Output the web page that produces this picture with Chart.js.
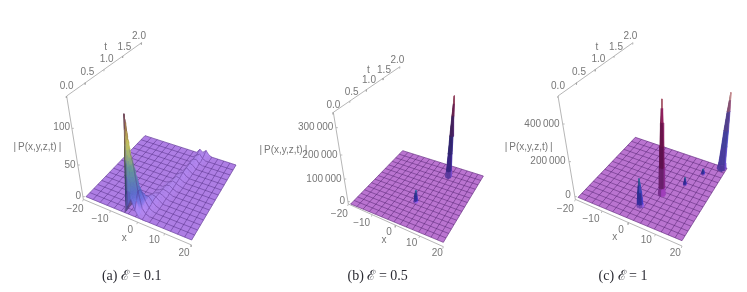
<!DOCTYPE html>
<html><head><meta charset="utf-8">
<style>
html,body{margin:0;padding:0;background:#fff;width:747px;height:292px;overflow:hidden}
canvas{position:absolute;top:0;filter:blur(.6px)}
</style>
<script src="https://cdn.jsdelivr.net/npm/chart.js@4"></script>
</head><body>
<canvas id="pa" width="250" height="292" style="left:0"></canvas>
<canvas id="pb" width="250" height="292" style="left:250px"></canvas>
<canvas id="pc" width="250" height="292" style="left:497px"></canvas>
<script>
// ---------- values ----------
const xTicks = [-20,-10,0,10,20];
const tTicks = [0,0.5,1,1.5,2];
const tTickLabels = ['0.0','0.5','1.0','1.5','2.0'];
const zTicksA = [0,50,100];
const zTickLabelsA = ['0','50','100'];
const zTicksB = [0,100000,200000,300000];
const zTickLabelsB = ['0','100\u2009000','200\u2009000','300\u2009000'];
const zTicksC = [0,200000,400000];
const zTickLabelsC = ['0','200\u2009000','400\u2009000'];
const captions = ['(a) \u2130 = 0.1','(b) \u2130 = 0.5','(c) \u2130 = 1'];

// Panel (a): surface heights, one row per t step (t = row/15), [first x index, heights...]  (x = -20 + i*4/3)
const ridgeRowsA = [
 [11,0,12,24,10,1],
 [11,0,147,70,20,3,1],
 [11,0,95,72,32,8,2],
 [11,0,45,52,30,10,3],
 [12,18,30,24,12,4,1],
 [12,5,16,18,12,5,1],
 [13,7,12,12,6,2],
 [13,3,8,10,7,2],
 [14,5,8,7,3],
 [14,3,6,6,3,1],
 [14,1,4,6,4,1],
 [15,3,5,4,1],
 [15,2,5,4,2],
 [15,1,5,5,2],
 [16,4,5,2],
 [16,3,5,3],
 [16,2,5,3,1],
 [16,1,5,4,1],
 [17,5,4,1],
 [17,4,5,1],
 [17,3,6,2],
 [17,2,6,2],
 [18,6,3],
 [18,6,3],
 [18,6,4],
 [18,6,5],
 [18,5,6,1],
 [18,5,6,1],
 [18,4,7,2],
 [18,5,5,4,1],
 [18,6,3,7,2]
];
// Panels (b), (c): isolated peaks
const peakXB = [6, 0.8];
const peakTB = [1.7, 0.74];
const peakZB = [318000, 46000];
const peakXC = [0, 4, 18, 9.2, 12.8];
const peakTC = [0.4, 0.86, 1.96, 1.28, 1.68];
const peakZC = [150000, 530000, 420000, 40000, 28000];
// peak profile: [radius in mesh cells, fraction of peak height]
const peakProfile = [[0.5,0],[0.38,0.07],[0.3,0.28],[0.24,0.5],[0.14,0.75],[0.06,0.9],[0.02,1]];

// ---------- styles ----------
const rampNavy=[[0,150,90,200],[0.15,60,50,170],[0.6,50,55,150],[1,70,110,160]];
const rampMagenta=[[0,140,60,170],[0.1,120,40,130],[0.4,105,20,85],[0.85,125,30,80],[1,200,140,140]];
const rampBlueRose=[[0,90,60,170],[0.35,70,70,170],[0.65,90,70,150],[0.85,150,90,120],[1,215,170,160]];
const rampDeep=[[0,110,70,180],[0.15,60,40,140],[0.5,50,40,110],[0.8,100,30,80],[1,170,90,110]];

// ---------- layout (in 3x crop units of each panel) ----------
const layouts = [{
  id:'pa', corners:[[258,590],[575,720],[708,495],[435,407]],
  zAxis:[[250,598],[200,288]], tEnd:[425,128], xEnd:[575,735],
  zs:2.0, vx:480, zMax:147,
  zTicks:zTicksA, zLabels:zTickLabelsA, zTickY:[590,495,385],
  tPos:[[200,260],[262,218],[320,178],[373,142],[417,110]], tName:[317,142],
  zPos:[[235,590],[210,495],[185,383]], pName:[112,443],
  xPos:[[225,628],[300,658],[391,690],[463,722],[552,760]], xName:[373,715],
  cap:[395,830], flat:'rgb(174,126,228)', mesh:'rgba(80,44,130,0.5)',
  ramp:[[0,174,128,230],[0.04,172,132,234],[0.12,115,110,215],[0.2,90,105,195],[0.42,95,140,150],[0.66,190,190,90],[0.83,150,110,70],[1,120,60,80]]
},{
  id:'pb', corners:[[302,612],[580,727],[700,528],[458,452]],
  zAxis:[[295,612],[250,337]], tEnd:[450,200], xEnd:[580,740],
  zs:0.00076, vx:490,
  peakRamps:[rampDeep,rampNavy], peakWidth:[1,0.7],
  zTicks:zTicksB, zLabels:zTickLabelsB, zTickY:[605,537,465,383],
  tPos:[[250,315],[305,277],[357,240],[402,210],[442,180]], tName:[355,212],
  zPos:[[277,603],[222,537],[210,465],[197,383]], pName:[100,450],
  xPos:[[268,642],[335,670],[417,697],[485,730],[562,760]], xName:[402,720],
  cap:[383,830], flat:'rgb(186,116,208)', mesh:'rgba(80,32,110,0.5)'
},{
  id:'pc', corners:[[243,592],[555,722],[690,505],[415,412]],
  zAxis:[[235,598],[183,288]], tEnd:[408,128], xEnd:[555,738],
  zs:0.00054, vx:495,
  peakRamps:[rampNavy,rampMagenta,rampBlueRose,rampNavy,rampNavy], peakWidth:[1,1,1.3,0.45,0.5],
  zTicks:zTicksC, zLabels:zTickLabelsC, zTickY:[590,485,372],
  tPos:[[183,260],[246,217],[304,178],[357,142],[400,110]], tName:[300,142],
  zPos:[[213,587],[153,485],[135,372]], pName:[95,442],
  xPos:[[205,628],[282,658],[372,690],[448,722],[535,760]], xName:[353,713],
  cap:[378,830], flat:'rgb(186,116,208)', mesh:'rgba(80,32,110,0.5)'
}];
const leanK = 0.0007, meshCells = 15, fineCells = 30;

// ---------- projection to the chart's plane ----------
function project(L,u,t,z){
  const c=L.corners;
  const nx=c[0][0]+u*(c[1][0]-c[0][0]), ny=c[0][1]+u*(c[1][1]-c[0][1]);
  const fx=c[3][0]+u*(c[2][0]-c[3][0]), fy=c[3][1]+u*(c[2][1]-c[3][1]);
  const bx=nx+t*(fx-nx), by=ny+t*(fy-ny);
  const h=z*L.zs;
  return {x:bx+h*(bx-L.vx)*leanK, y:by-h};
}
function rampColor(r,f,shade){
  f=Math.max(0,Math.min(1,f));
  let i=0; while(i<r.length-2 && f>r[i+1][0]) i++;
  const a=r[i],b=r[i+1],k=(f-a[0])/(b[0]-a[0]);
  const m=j=>Math.max(0,Math.min(255,Math.round((a[j]+(b[j]-a[j])*k)*shade)));
  return `rgb(${m(1)},${m(2)},${m(3)})`;
}
function poly(pts,color){
  return {data:[...pts,pts[0]],showLine:true,fill:'shape',backgroundColor:color,borderColor:color,borderWidth:0.4,pointRadius:0,clip:false};
}
function line(pts,color,w){
  return {data:pts,showLine:true,fill:false,borderColor:color,borderWidth:w,pointRadius:0,clip:false};
}
function baseSets(L){
  const s=[];
  const g=(u,t)=>project(L,u,t,0);
  s.push(poly([g(0,0),g(1,0),g(1,1),g(0,1)],L.flat));
  for(let i=0;i<=meshCells;i++){
    const f=i/meshCells;
    s.push(line([g(f,0),g(f,1)],L.mesh,1));
    s.push(line([g(0,f),g(1,f)],L.mesh,1));
  }
  return s;
}
function axisSets(L){
  const col='rgba(165,165,165,0.9)', s=[];
  const P=([x,y])=>({x,y});
  const [zb,zt]=L.zAxis;
  s.push(line([P(zb),P(zt)],col,0.9));
  s.push(line([P(zt),P(L.tEnd)],col,0.9));
  s.push(line([P(zb),P(L.xEnd)],col,0.9));
  xTicks.forEach(v=>{const f=(v+20)/40,x=zb[0]+f*(L.xEnd[0]-zb[0]),y=zb[1]+f*(L.xEnd[1]-zb[1]);
    s.push(line([{x,y},{x:x-2,y:y+6}],col,0.8));});
  tTicks.forEach(v=>{const f=v/2,x=zt[0]+f*(L.tEnd[0]-zt[0]),y=zt[1]+f*(L.tEnd[1]-zt[1]);
    s.push(line([{x,y},{x:x-1,y:y+6}],col,0.8));});
  L.zTickY.forEach(yy=>{const f=(zb[1]-yy)/(zb[1]-zt[1]),x=zb[0]+f*(zt[0]-zb[0]);
    s.push(line([{x,y:yy},{x:x+6,y:yy}],col,0.8));});
  return s;
}
// panel (a) surface
function surfaceSets(L,rows){
  const h=[];for(let i=0;i<=fineCells;i++){h.push(new Array(fineCells+1).fill(0));}
  rows.forEach((r,it)=>{for(let j=1;j<r.length;j++)h[it][r[0]+j-1]=r[j];});
  const s=[];
  for(let it=fineCells-1;it>=0;it--){
    for(let ix=0;ix<fineCells;ix++){
      const a=h[it][ix],b=h[it][ix+1],c=h[it+1][ix+1],d=h[it+1][ix];
      const mx=Math.max(a,b,c,d); if(mx===0) continue;
      const n=mx>20?6:1;
      for(let q=n-1;q>=0;q--)for(let p=0;p<n;p++){
        const hh=(pp,qq)=>{const fu=pp/n,ft=qq/n;return (a*(1-fu)+b*fu)*(1-ft)+(d*(1-fu)+c*fu)*ft;};
        const uv=(pp,qq)=>project(L,(ix+pp/n)/fineCells,(it+qq/n)/fineCells,hh(pp,qq));
        const mean=(hh(p,q)+hh(p+1,q)+hh(p+1,q+1)+hh(p,q+1))/4;
        const dzdx=(hh(p+1,q)+hh(p+1,q+1)-hh(p,q)-hh(p,q+1))/2*n;
        const sh=dzdx>0?Math.max(0.62,1-dzdx*0.012):Math.min(1.06,1-dzdx*0.006);
        s.push(poly([uv(p,q),uv(p+1,q),uv(p+1,q+1),uv(p,q+1)],rampColor(L.ramp,mean/L.zMax,sh)));
      }
      const pt=(i,j)=>project(L,i/fineCells,j/fineCells,h[j][i]);
      if(ix%2===0) s.push(line([pt(ix,it),pt(ix,it+1)],L.mesh,0.7));
      if(it%2===0) s.push(line([pt(ix,it),pt(ix+1,it)],L.mesh,0.7));
      if((it+1)%2===0) s.push(line([pt(ix,it+1),pt(ix+1,it+1)],L.mesh,0.7));
      if((ix+1)%2===0) s.push(line([pt(ix+1,it),pt(ix+1,it+1)],L.mesh,0.7));
    }
  }
  return s;
}
// panels (b), (c) peaks
function peakSets(L,xs,ts,zs){
  const order=xs.map((_,i)=>i).sort((a,b)=>(xs[a]/40-ts[a]/2)-(xs[b]/40-ts[b]/2));
  const s=[];const sides=8;
  order.forEach(i=>{
    const u0=(xs[i]+20)/40,t0=ts[i]/2,faces=[],W=L.peakWidth[i];
    const at=(k,r,fz)=>{const ang=k/sides*2*Math.PI+Math.PI/8;
      return {u:u0+W*r*Math.cos(ang)/meshCells,t:t0+W*r*Math.sin(ang)/meshCells,z:zs[i]*fz};};
    for(let ring=0;ring<peakProfile.length-1;ring++){
      const [r0,f0]=peakProfile[ring],[r1,f1]=peakProfile[ring+1];
      for(let k=0;k<sides;k++){
        const A=at(k,r0,f0),B=at(k+1,r0,f0),C=at(k+1,r1,f1),D=at(k,r1,f1);
        const cu=(A.u+B.u)/2,ct=(A.t+B.t)/2;
        const near=(cu-u0)-(ct-t0);
        const side=(cu-u0)+(ct-t0);   // toward screen right
        const sh=side>0?1.2:0.92;
        faces.push({near:near+ring*1e-5,pts:[A,B,C,D],col:rampColor(L.peakRamps[i],(f0+f1)/2,sh)});
      }
    }
    faces.sort((a,b)=>a.near-b.near);
    faces.forEach(f=>s.push(poly(f.pts.map(p=>project(L,p.u,p.t,p.z)),f.col)));
  });
  return s;
}
const textPlugin={id:'panelText',afterDatasetsDraw(chart,args,o){
  const L=o.layout,ctx=chart.ctx,sx=chart.scales.x,sy=chart.scales.y;
  const put=(txt,[x,y],font,color)=>{ctx.font=font;ctx.fillStyle=color;ctx.textAlign='center';ctx.textBaseline='middle';
    ctx.fillText(txt,sx.getPixelForValue(x),sy.getPixelForValue(y));};
  const f='10px "Liberation Sans"',c='#777';
  ctx.save();
  tTickLabels.forEach((t,i)=>put(t,L.tPos[i],f,c));
  put('t',L.tName,f,c);
  L.zLabels.forEach((t,i)=>put(t,L.zPos[i],f,c));
  put('|\u2009P(x,y,z,t)\u2009|',L.pName,f,c);
  xTicks.forEach((v,i)=>put(String(v).replace('-','\u2212'),L.xPos[i],f,c));
  put('x',L.xName,f,c);
  put(o.caption,L.cap,'14px "Liberation Serif"','#2b2b33');
  ctx.restore();
}};
function build(L,caption,marks){
  const sets=[...axisSets(L),...baseSets(L),...marks].reverse();
  new Chart(document.getElementById(L.id),{type:'scatter',data:{datasets:sets},plugins:[textPlugin],options:{
    responsive:false,animation:false,devicePixelRatio:1,events:[],normalized:true,
    layout:{padding:0},
    elements:{point:{radius:0},line:{tension:0}},
    scales:{x:{type:'linear',display:false,min:0,max:750},y:{type:'linear',display:false,min:0,max:876,reverse:true}},
    plugins:{legend:{display:false},tooltip:{enabled:false},title:{display:false},panelText:{layout:L,caption}}
  }});
}
build(layouts[0],captions[0],surfaceSets(layouts[0],ridgeRowsA));
build(layouts[1],captions[1],peakSets(layouts[1],peakXB,peakTB,peakZB));
build(layouts[2],captions[2],peakSets(layouts[2],peakXC,peakTC,peakZC));
</script>
</body></html>
